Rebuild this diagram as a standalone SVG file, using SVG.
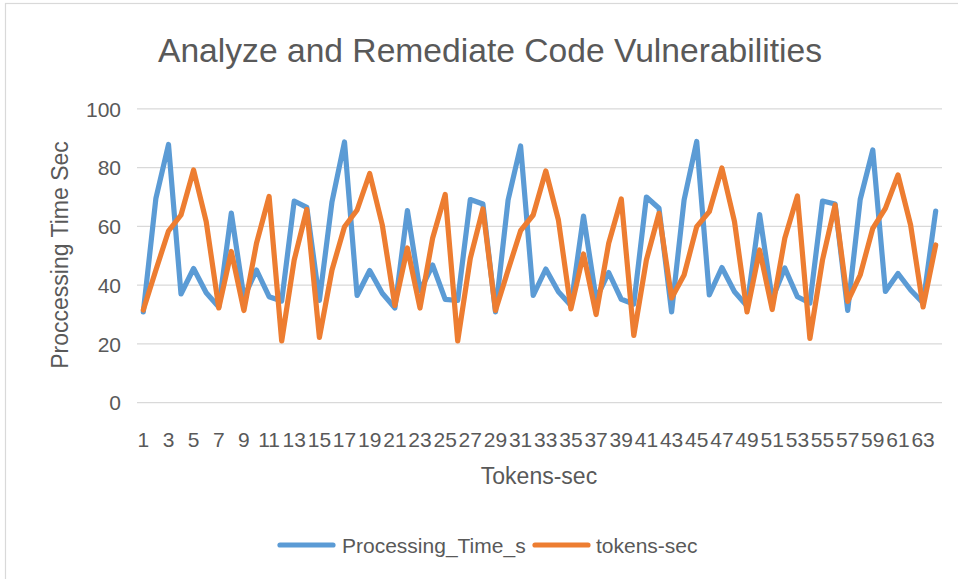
<svg xmlns="http://www.w3.org/2000/svg" width="958" height="579" viewBox="0 0 958 579">
  <style>
    text { font-family: "Liberation Sans", Arial, sans-serif; fill: #595959; }
    .grid { stroke: #D9D9D9; stroke-width: 1.2; fill: none; }
    .tick { font-size: 21px; }
    .ytick { text-anchor: end; }
    .xtick { text-anchor: middle; }
    .series { fill: none; stroke-width: 5.2; stroke-linejoin: round; stroke-linecap: round; }
    .blue { stroke: #5B9BD5; }
    .orange { stroke: #ED7D31; }
  </style>

  <!-- chart area -->
  <rect x="0" y="0" width="958" height="579" fill="#FFFFFF"/>
  <rect x="5.5" y="3.5" width="970" height="600" fill="#FFFFFF" stroke="#D9D9D9" stroke-width="1.2"/>

  <!-- title -->
  <text id="title" x="490" y="62" font-size="33.5" text-anchor="middle" textLength="664" lengthAdjust="spacingAndGlyphs">Analyze and Remediate Code Vulnerabilities</text>

  <!-- value axis -->
  <g id="value-axis">
    <line class="grid" x1="137" y1="108.9" x2="942" y2="108.9"/>
    <line class="grid" x1="137" y1="167.6" x2="942" y2="167.6"/>
    <line class="grid" x1="137" y1="226.4" x2="942" y2="226.4"/>
    <line class="grid" x1="137" y1="285.1" x2="942" y2="285.1"/>
    <line class="grid" x1="137" y1="343.9" x2="942" y2="343.9"/>
    <line class="grid" x1="137" y1="402.6" x2="942" y2="402.6"/>
    <text class="tick ytick" x="121" y="116.5">100</text>
    <text class="tick ytick" x="121" y="175.2">80</text>
    <text class="tick ytick" x="121" y="234">60</text>
    <text class="tick ytick" x="121" y="292.7">40</text>
    <text class="tick ytick" x="121" y="351.5">20</text>
    <text class="tick ytick" x="121" y="410.2">0</text>
    <text id="y-title" transform="translate(68,255) rotate(-90)" font-size="23" text-anchor="middle">Proccessing Time Sec</text>
  </g>

  <!-- category axis -->
  <g id="category-axis">
    <text class="tick xtick" x="143.3" y="446.5">1</text>
    <text class="tick xtick" x="168.5" y="446.5">3</text>
    <text class="tick xtick" x="193.6" y="446.5">5</text>
    <text class="tick xtick" x="218.8" y="446.5">7</text>
    <text class="tick xtick" x="243.9" y="446.5">9</text>
    <text class="tick xtick" x="269.1" y="446.5">11</text>
    <text class="tick xtick" x="294.2" y="446.5">13</text>
    <text class="tick xtick" x="319.4" y="446.5">15</text>
    <text class="tick xtick" x="344.5" y="446.5">17</text>
    <text class="tick xtick" x="369.7" y="446.5">19</text>
    <text class="tick xtick" x="394.9" y="446.5">21</text>
    <text class="tick xtick" x="420.0" y="446.5">23</text>
    <text class="tick xtick" x="445.2" y="446.5">25</text>
    <text class="tick xtick" x="470.3" y="446.5">27</text>
    <text class="tick xtick" x="495.5" y="446.5">29</text>
    <text class="tick xtick" x="520.6" y="446.5">31</text>
    <text class="tick xtick" x="545.8" y="446.5">33</text>
    <text class="tick xtick" x="570.9" y="446.5">35</text>
    <text class="tick xtick" x="596.1" y="446.5">37</text>
    <text class="tick xtick" x="621.3" y="446.5">39</text>
    <text class="tick xtick" x="646.4" y="446.5">41</text>
    <text class="tick xtick" x="671.6" y="446.5">43</text>
    <text class="tick xtick" x="696.7" y="446.5">45</text>
    <text class="tick xtick" x="721.9" y="446.5">47</text>
    <text class="tick xtick" x="747.0" y="446.5">49</text>
    <text class="tick xtick" x="772.2" y="446.5">51</text>
    <text class="tick xtick" x="797.4" y="446.5">53</text>
    <text class="tick xtick" x="822.5" y="446.5">55</text>
    <text class="tick xtick" x="847.7" y="446.5">57</text>
    <text class="tick xtick" x="872.8" y="446.5">59</text>
    <text class="tick xtick" x="898.0" y="446.5">61</text>
    <text class="tick xtick" x="923.1" y="446.5">63</text>
    <text id="x-title" x="539" y="484" font-size="23" text-anchor="middle">Tokens-sec</text>
  </g>

  <!-- data series -->
  <g id="series">
    <polyline id="processing-time" class="series blue" points="143.3,312 155.9,198.3 168.5,144.5 181.0,294 193.6,268.5 206.2,292.7 218.8,307 231.3,213 243.9,297.5 256.5,270 269.1,296.7 281.7,301 294.2,201 306.8,207.3 319.4,300.5 332.0,201.7 344.5,142 357.1,295.5 369.7,270.5 382.3,293.3 394.9,308 407.4,210.5 420.0,291 432.6,265 445.2,299.3 457.7,300.5 470.3,199.5 482.9,204 495.5,312 508.1,200 520.6,146 533.2,295.5 545.8,269 558.4,291.7 570.9,305.5 583.5,216 596.1,299 608.7,272.5 621.3,299.3 633.8,304 646.4,197 659.0,208.3 671.6,312 684.1,200 696.7,141.5 709.3,295 721.9,267.5 734.5,291.7 747.0,306 759.6,214.5 772.2,299 784.8,268 797.4,296.7 809.9,303 822.5,201 835.1,204 847.7,310.5 860.2,199.5 872.8,150 885.4,291.5 898.0,273.5 910.6,290 923.1,303 935.7,211"/>
    <polyline id="tokens-sec" class="series orange" points="143.3,310 155.9,270 168.5,231 181.0,215 193.6,170 206.2,221.7 218.8,308 231.3,251.5 243.9,310.5 256.5,243.3 269.1,196.5 281.7,341 294.2,260 306.8,209.5 319.4,337.5 332.0,270 344.5,226.7 357.1,210 369.7,173.5 382.3,225 394.9,305.5 407.4,248 420.0,308 432.6,238.3 445.2,194.5 457.7,341 470.3,258.3 482.9,209 495.5,310.5 508.1,270 520.6,230.7 533.2,215 545.8,171 558.4,220 570.9,309 583.5,254 596.1,314.5 608.7,243.3 621.3,199 633.8,335.5 646.4,260 659.0,213.3 671.6,298 684.1,275 696.7,226.7 709.3,211.7 721.9,168 734.5,221.7 747.0,312 759.6,250 772.2,309.5 784.8,238.3 797.4,196 809.9,338.5 822.5,260 835.1,205 847.7,301.5 860.2,275 872.8,228.3 885.4,208.3 898.0,175 910.6,225 923.1,307 935.7,245"/>
  </g>

  <!-- legend -->
  <g id="legend">
    <line class="series blue" x1="280" y1="545" x2="333" y2="545"/>
    <text x="342" y="553" font-size="21">Processing_Time_s</text>
    <line class="series orange" x1="535" y1="545" x2="588" y2="545"/>
    <text x="596" y="553" font-size="21">tokens-sec</text>
  </g>
</svg>
